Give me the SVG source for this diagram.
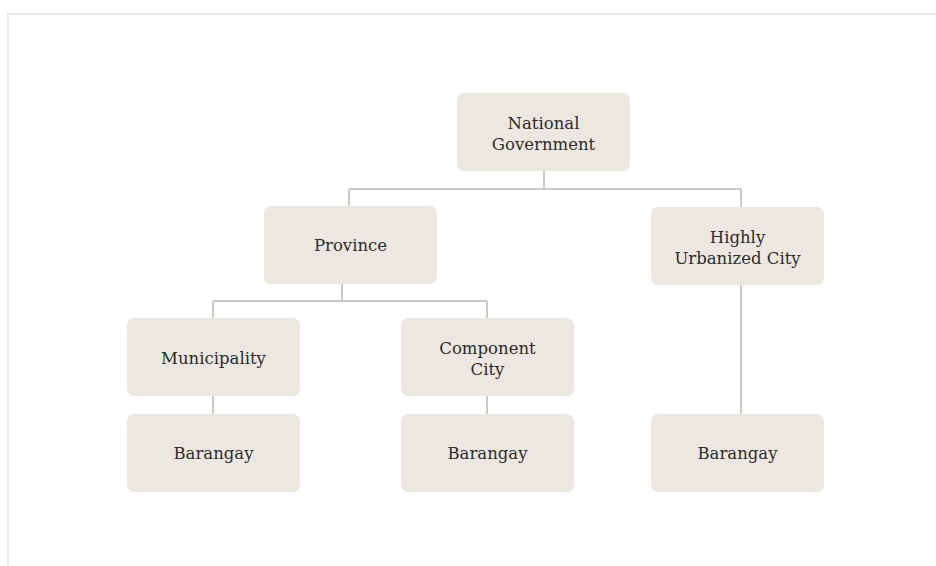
<svg xmlns="http://www.w3.org/2000/svg" width="936" height="566" viewBox="0 0 936 566">
<style>
.node rect{fill:#ede7e2;}
.node text{font-family:"DejaVu Serif","Liberation Serif",serif;font-size:16.5px;fill:#2e2c2a;text-anchor:middle;}
.conn line{stroke:#bcb8b5;stroke-width:1.5;fill:none;}
.frame{stroke:#efe8e2;stroke-width:2;fill:none;}
</style>
<rect width="936" height="566" fill="#ffffff"/>
<path class="frame" d="M8 566 V14 H936"/>
<g class="conn" id="connectors">
<line x1="544" y1="171" x2="544" y2="189"/>
<line x1="349" y1="189" x2="741" y2="189"/>
<line x1="349" y1="189" x2="349" y2="206"/>
<line x1="741" y1="189" x2="741" y2="207"/>
<line x1="342" y1="284" x2="342" y2="301"/>
<line x1="213" y1="301" x2="487" y2="301"/>
<line x1="213" y1="301" x2="213" y2="318"/>
<line x1="487" y1="301" x2="487" y2="318"/>
<line x1="213" y1="396" x2="213" y2="414"/>
<line x1="487" y1="396" x2="487" y2="414"/>
<line x1="741" y1="285" x2="741" y2="414"/>
</g>
<g class="node" id="national">
<rect x="457" y="93" width="173" height="78" rx="7"/>
<text x="543.5" y="129">National</text>
<text x="543.5" y="150">Government</text>
</g>
<g class="node" id="province">
<rect x="264" y="206" width="173" height="78" rx="7"/>
<text x="350.5" y="251">Province</text>
</g>
<g class="node" id="huc">
<rect x="651" y="207" width="173" height="78" rx="7"/>
<text x="737.5" y="243">Highly</text>
<text x="737.5" y="264">Urbanized City</text>
</g>
<g class="node" id="municipality">
<rect x="127" y="318" width="173" height="78" rx="7"/>
<text x="213.5" y="364">Municipality</text>
</g>
<g class="node" id="component">
<rect x="401" y="318" width="173" height="78" rx="7"/>
<text x="487.5" y="354">Component</text>
<text x="487.5" y="375">City</text>
</g>
<g class="node" id="barangay1">
<rect x="127" y="414" width="173" height="78" rx="7"/>
<text x="213.5" y="459">Barangay</text>
</g>
<g class="node" id="barangay2">
<rect x="401" y="414" width="173" height="78" rx="7"/>
<text x="487.5" y="459">Barangay</text>
</g>
<g class="node" id="barangay3">
<rect x="651" y="414" width="173" height="78" rx="7"/>
<text x="737.5" y="459">Barangay</text>
</g>
</svg>
